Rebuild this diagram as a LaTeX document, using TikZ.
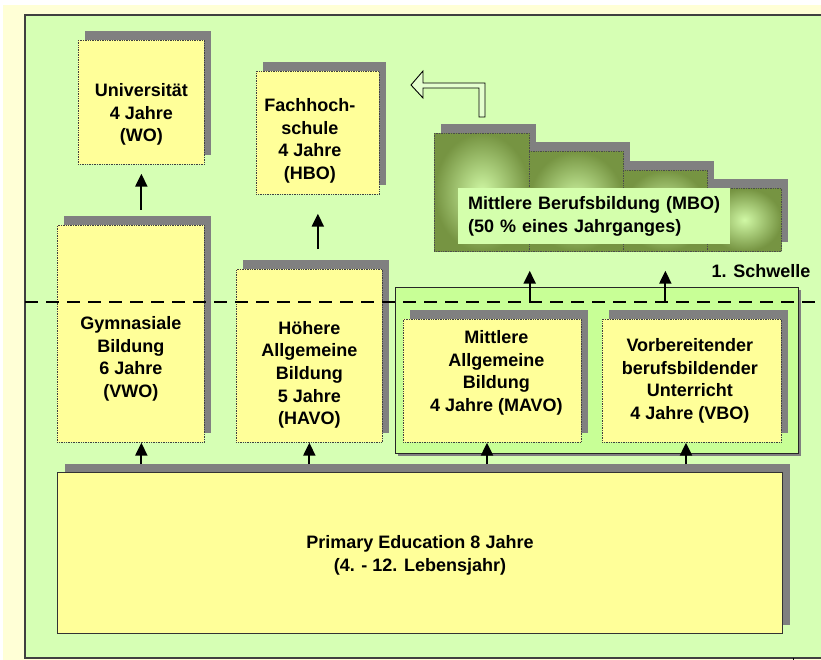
\documentclass[tikz,border=0pt]{standalone}
\usepackage{fontspec}
\setmainfont{Liberation Sans}
\usetikzlibrary{arrows.meta,shadows}
\definecolor{panel}{RGB}{214,255,180}
\definecolor{pale}{RGB}{255,255,214}
\definecolor{boxyellow}{RGB}{255,255,153}
\definecolor{grpgreen}{RGB}{200,255,150}
\definecolor{shadowgray}{RGB}{128,128,128}
\definecolor{mbolight}{RGB}{208,248,165}
\definecolor{mbodark}{RGB}{118,148,66}
\definecolor{mbolabel}{RGB}{212,255,172}

\begin{document}
\begin{tikzpicture}[x=1pt,y=-1pt,
    shd/.style={drop shadow={shadow xshift=7pt,shadow yshift=9pt,draw=none,fill=shadowgray,opacity=1}},
    ybox/.style={shd,draw=black!75,densely dotted,line width=0.7pt,fill=boxyellow,anchor=north west,inner sep=0pt},
    mbobox/.style={shd,draw=black!70,densely dotted,line width=0.7pt,inner color=mbolight,outer color=mbodark,anchor=north west,inner sep=0pt},
    txt/.style={align=center,inner sep=0pt,font=\bfseries\fontsize{18}{22.7}\selectfont},
    arr/.style={-{Triangle[width=12pt,length=13pt]},line width=2.2pt}]
  \useasboundingbox (0,0) rectangle (821,660);
  \fill[white] (0,0) rectangle (821,660);
  \fill[pale] (3,5) rectangle (821,660);
  \fill[panel] (25,15) rectangle (821,658);
  \draw[black!75,line width=1.5pt] (821,15) -- (25,15) -- (25,658) -- (821,658);
  \draw[black,line width=0.8pt] (793,658) -- (793,660);

  \draw[line width=0.9pt,fill=white!35!panel] (485,117) -- (485,83) -- (423,83) -- (423,71) -- (411,85)
    -- (423,98) -- (423,88) -- (479,88) -- (479,117) -- cycle;

  \node[ybox,minimum width=126pt,minimum height=124pt] (univ) at (78,40) {};
  \node[txt] (univT) at ([yshift=-12pt]univ.center) {Universität\\4 Jahre\\(WO)};
  \node[ybox,minimum width=123pt,minimum height=123pt] (fach) at (256,71) {};
  \node[txt] (fachT) at ([xshift=-8pt,yshift=-8pt]fach.center) {Fachhoch-\\schule\\4 Jahre\\(HBO)};

  \node[mbobox,minimum width=95pt,minimum height=118pt] (mboA) at (434,133) {};
  \node[mbobox,minimum width=94pt,minimum height=100pt] (mboB) at (529,151) {};
  \node[mbobox,minimum width=84pt,minimum height=81pt] (mboC) at (623,170) {};
  \node[mbobox,minimum width=74pt,minimum height=63pt] (mboD) at (707,188) {};
  \node[fill=mbolabel,anchor=north west,minimum width=272pt,minimum height=56pt,text width=252pt,
    inner xsep=10pt,align=left,font=\bfseries\fontsize{18}{23.5}\selectfont] (mbo) at (458,188)
    {Mittlere Berufsbildung (MBO)\\(50 \% eines Jahrganges)};

  \node[ybox,minimum width=147pt,minimum height=217pt] (gym) at (57,225) {};
  \node[txt] (gymT) at ([yshift=-25pt]gym.center) {Gymnasiale\\Bildung\\6 Jahre\\(VWO)};
  \node[ybox,minimum width=146pt,minimum height=173pt] (havo) at (236,269) {};
  \node[txt] (havoT) at ([yshift=-19pt]havo.center) {Höhere\\Allgemeine\\Bildung\\5 Jahre\\(HAVO)};

  \node[draw=black!85,line width=1.4pt,fill=grpgreen,anchor=north west,minimum width=403pt,minimum height=166pt,
    drop shadow={shadow xshift=2pt,shadow yshift=-2pt,draw=none,fill=shadowgray,opacity=1}] (grp) at (395,287) {};
  \node[ybox,minimum width=178pt,minimum height=123pt] (mavo) at (403,319) {};
  \node[txt] (mavoT) at ([xshift=4pt,yshift=8pt]mavo.center) {Mittlere\\Allgemeine\\Bildung\\4 Jahre (MAVO)};
  \node[ybox,minimum width=179pt,minimum height=123pt] (vbo) at (602,319) {};
  \node[txt] (vboT) at ([xshift=-2pt]vbo.center) {Vorbereitender\\berufsbildender\\Unterricht\\4 Jahre (VBO)};

  \node[shd,draw=black!80,line width=1pt,fill=boxyellow,anchor=north west,minimum width=725pt,minimum height=161pt] (prim) at (57,472) {};
  \node[txt] (primT) at ([yshift=-2pt]prim.center) {Primary Education 8 Jahre\\(4. - 12. Lebensjahr)};

  \draw[arr,shorten <=15pt,shorten >=9pt] (gym.north -| univ.south) -- (univ.south);
  \draw[arr,shorten <=20pt,shorten >=19pt] (havo.north -| fach.south) -- (fach.south);
  \draw[arr] ([yshift=8pt]prim.north -| univ.south) -- (gym.south -| univ.south);
  \draw[arr] ([yshift=8pt]prim.north -| havo.south) -- (havo.south);
  \draw[arr] ([yshift=8pt]prim.north -| 487,0) -- (mavo.south -| 487,0);
  \draw[arr] ([yshift=8pt]prim.north -| 686,0) -- (vbo.south -| 686,0);
  \draw[arr] ([yshift=-15pt]grp.north -| mboA.south east) -- ([yshift=-19pt]mboA.south east);
  \draw[arr] ([yshift=-15pt]grp.north -| mboC.south) -- ([yshift=-19pt]mboC.south);

  \draw[line width=2.2pt,dash pattern=on 13pt off 8pt] (25,302) -- (821,302);
  \node[txt] (schwelle) at (761,271) {1. Schwelle};
\end{tikzpicture}
\end{document}
